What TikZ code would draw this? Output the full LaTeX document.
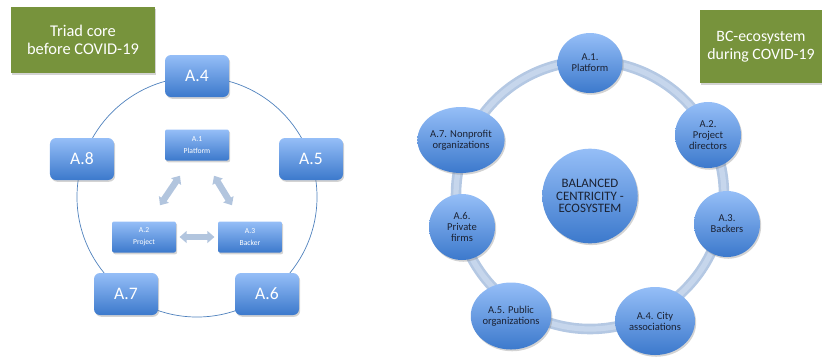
\documentclass[tikz,border=0pt]{standalone}
\usepackage{fontspec}
\setmainfont{Carlito}
\usetikzlibrary{arrows.meta}
\usetikzlibrary{shapes.geometric}
\usetikzlibrary{shadows}
\usetikzlibrary{calc}
\definecolor{boxgreen}{HTML}{77933C}
\definecolor{toplight}{HTML}{95BEF7}
\definecolor{botdark}{HTML}{3C79CC}
\definecolor{ringblue}{HTML}{B4C8E3}
\definecolor{ringlight}{HTML}{C6D6EC}
\definecolor{lineblue}{HTML}{4F81BD}
\definecolor{arrowgrey}{HTML}{B2C5DE}
\definecolor{inktext}{HTML}{1B2233}

\begin{document}
\begin{tikzpicture}[x=0.03cm,y=-0.03cm,
  shadowed/.style={drop shadow={opacity=0.35,shadow xshift=1pt,shadow yshift=-1.5pt}},
  greenbox/.style={fill=boxgreen,text=white,align=center,font=\fontsize{14}{15.5}\selectfont,shadowed},
  bigbox/.style={rounded corners=0.18cm,top color=toplight,bottom color=botdark,text=white,
    minimum width=1.92cm,minimum height=1.26cm,font=\fontsize{15}{18}\selectfont,shadowed},
  smallbox/.style={rounded corners=0.06cm,top color=toplight,bottom color=botdark,text=white,
    minimum width=1.92cm,minimum height=0.93cm,align=center,font=\fontsize{6.5}{10}\selectfont,shadowed},
  bubble/.style={ellipse,top color=toplight,bottom color=botdark,text=inktext,inner sep=0pt,
    minimum width=1.98cm,minimum height=1.98cm,align=center,font=\fontsize{9}{9.3}\selectfont,shadowed},
  biarrow/.style={line width=5.5pt,arrowgrey,{Triangle[width=10pt,length=6pt]}-{Triangle[width=10pt,length=6pt]}}
  ]
  \useasboundingbox (0,0) rectangle (822,356);

  % before COVID-19
  \node[greenbox,minimum width=4.32cm,minimum height=1.98cm] (before) at (83,40) {Triad core\\before COVID-19};
  \draw[lineblue,line width=0.6pt] (197,197) circle [radius=3.6cm];
  \node[bigbox] (b4) at (197,76) {A.4};
  \node[bigbox] (b5) at (311,159) {A.5};
  \node[bigbox] (b6) at (267,294) {A.6};
  \node[bigbox] (b7) at (126,294) {A.7};
  \node[bigbox] (b8) at (82,159) {A.8};
  \node[smallbox] (b1) at (197,145) {A.1\\Platform};
  \node[smallbox] (b2) at (144,237) {A.2\\Project};
  \node[smallbox] (b3) at (250,237) {A.3\\Backer};
  \draw[biarrow] ($(b1.south)+(-17,15)$) -- ($(b2.north)+(16,-16)$);
  \draw[biarrow] ($(b1.south)+(17,15)$) -- ($(b3.north)+(-18,-16)$);
  \draw[biarrow,shorten <=0.1cm,shorten >=0.1cm] (b2) -- (b3);

  % during COVID-19
  \node[greenbox,font=\fontsize{13.5}{15.5}\selectfont,minimum width=3.66cm,minimum height=2.19cm] (during) at (761,46.5) {BC-ecosystem\\during COVID-19};
  \draw[ringblue,line width=9pt] (590,195) circle [radius=4.02cm];
  \draw[ringlight,line width=4.5pt] (590,195) circle [radius=4.02cm];
  \node[bubble,minimum width=1.95cm,minimum height=1.8cm] (c1) at (590,63) {A.1.\\Platform};
  \node[bubble] (c2) at (708,135) {A.2.\\Project\\directors};
  \node[bubble] (c3) at (727,224) {A.3.\\Backers};
  \node[bubble,minimum width=2.4cm,minimum height=2.04cm] (c4) at (655,321) {A.4. City\\associations};
  \node[bubble,minimum width=2.34cm,minimum height=2.01cm] (c5) at (511,316) {A.5. Public\\organizations};
  \node[bubble] (c6) at (462,227) {A.6.\\Private\\firms};
  \node[bubble] (c7) at (461,140) {A.7. Nonprofit\\organizations};
  \node[bubble,minimum width=2.84cm,minimum height=2.84cm,font=\fontsize{11}{10.5}\selectfont] (core) at (590,196) {BALANCED\\CENTRICITY -\\ECOSYSTEM};
\end{tikzpicture}
\end{document}
